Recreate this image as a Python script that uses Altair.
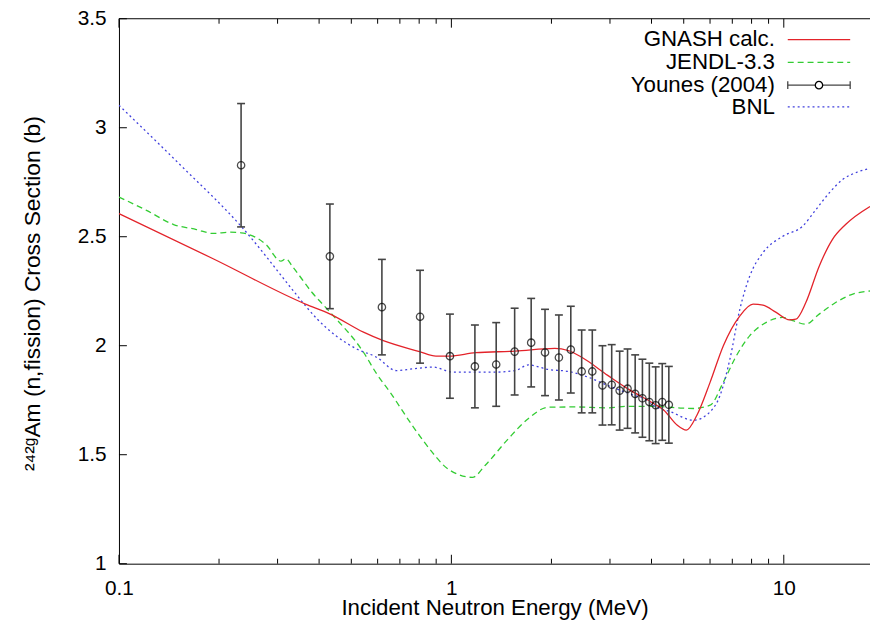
import altair as alt
import pandas as pd

# ---------------- data ----------------
younes_e = [0.233, 0.431, 0.618, 0.805, 0.990, 1.177, 1.364, 1.550, 1.738, 1.913, 2.106, 2.287,
            2.466, 2.654, 2.848, 3.036, 3.208, 3.388, 3.572, 3.756, 3.940, 4.117, 4.309, 4.510]
younes_xs = [2.828, 2.410, 2.177, 2.133, 1.952, 1.905, 1.914, 1.973, 2.014, 1.969, 1.946, 1.982,
             1.882, 1.882, 1.818, 1.821, 1.794, 1.803, 1.779, 1.759, 1.742, 1.727, 1.742, 1.729]
younes_err = [0.283, 0.240, 0.219, 0.213, 0.193, 0.190, 0.192, 0.199, 0.203, 0.198, 0.195, 0.199,
              0.190, 0.190, 0.182, 0.184, 0.181, 0.182, 0.179, 0.179, 0.178, 0.176, 0.176, 0.176]

gnash_e = [0.1, 0.192, 0.364, 0.432, 0.544, 0.624, 0.802, 0.899, 0.985, 1.183, 1.557, 2.048,
           2.244, 2.460, 2.953, 3.388, 4.069, 4.358, 4.775, 5.093, 5.478, 6.005, 6.580, 7.379,
           8.082, 8.660, 9.486, 10.40, 10.88, 11.65, 12.78, 14.00, 15.34, 18.17]
gnash_xs = [2.606, 2.399, 2.191, 2.145, 2.062, 2.023, 1.973, 1.952, 1.952, 1.968, 1.975, 1.988,
            1.978, 1.948, 1.864, 1.803, 1.734, 1.704, 1.636, 1.613, 1.681, 1.833, 2.000, 2.137,
            2.191, 2.186, 2.153, 2.119, 2.122, 2.198, 2.365, 2.487, 2.556, 2.639]

jendl_e = [0.1, 0.121, 0.146, 0.171, 0.192, 0.215, 0.233, 0.277, 0.307, 0.318, 0.332, 0.381,
           0.432, 0.544, 0.596, 0.653, 0.766, 0.899, 0.942, 1.055, 1.157, 1.267, 1.487, 1.706,
           1.956, 2.350, 2.953, 3.388, 4.069, 4.775, 5.356, 6.005, 6.580, 7.208, 7.902, 8.859,
           9.931, 10.64, 11.65, 12.78, 14.32, 16.06, 18.17]
jendl_xs = [2.682, 2.621, 2.556, 2.533, 2.515, 2.521, 2.518, 2.464, 2.388, 2.399, 2.365, 2.244,
            2.153, 1.970, 1.871, 1.788, 1.630, 1.490, 1.455, 1.408, 1.396, 1.453, 1.575, 1.666,
            1.718, 1.719, 1.715, 1.722, 1.722, 1.715, 1.712, 1.727, 1.833, 1.955, 2.046, 2.107,
            2.130, 2.115, 2.099, 2.145, 2.198, 2.236, 2.251]

bnl_e = [0.1, 0.153, 0.233, 0.344, 0.364, 0.395, 0.519, 0.596, 0.683, 0.766, 0.879, 1.008,
         1.357, 1.557, 1.706, 1.956, 2.244, 2.575, 2.953, 3.548, 3.799, 4.069, 4.563, 5.356,
         6.005, 6.431, 6.888, 7.379, 7.902, 8.660, 9.931, 11.39, 12.49, 13.68, 14.99, 16.81, 18.17]
bnl_xs = [3.103, 2.829, 2.548, 2.229, 2.183, 2.122, 1.985, 1.947, 1.886, 1.894, 1.902, 1.879,
          1.879, 1.886, 1.912, 1.891, 1.882, 1.856, 1.818, 1.772, 1.757, 1.724, 1.697, 1.658,
          1.697, 1.772, 1.940, 2.168, 2.320, 2.427, 2.502, 2.548, 2.624, 2.700, 2.761, 2.799, 2.814]

x_major = [0.1, 1, 10]
x_minor = [0.2, 0.3, 0.4, 0.5, 0.6, 0.7, 0.8, 0.9, 2, 3, 4, 5, 6, 7, 8, 9]
y_major = [1, 1.5, 2, 2.5, 3, 3.5]

legend_labels = ["GNASH calc.", "JENDL-3.3", "Younes (2004)", "BNL"]

# ---------------- styling ----------------
W, H = 758, 550
FONT = "Liberation Sans"
RED, GREEN, BLUE, BAR = "#e3232a", "#33cc33", "#4040dd", "#444444"

xscale = alt.Scale(type="log", domain=[0.1, 18.17], nice=False)
yscale = alt.Scale(domain=[1.0, 3.5], nice=False, zero=False)

xaxis = alt.Axis(values=x_major, format="~g", title="Incident Neutron Energy (MeV)",
                 grid=False, ticks=False, tickSize=0, domainColor="black", domainWidth=1,
                 labelFont=FONT, labelFontSize=21, labelColor="black", labelPadding=14,
                 labelFlush=False, titleFont=FONT, titleFontSize=22.5, titleFontWeight="normal",
                 titleColor="black", titleY=51, titleBaseline="alphabetic")
yaxis = alt.Axis(values=y_major, format="~g", title="²⁴²ᵍAm (n,fission) Cross Section (b)",
                 grid=False, ticks=False, tickSize=0, domainColor="black", domainWidth=1,
                 labelFont=FONT, labelFontSize=21, labelColor="black", labelPadding=13,
                 labelFlush=False, titleFont=FONT, titleFontSize=23, titleFontWeight="normal",
                 titleColor="black", titleX=-87, titleY=277, titleBaseline="middle")

X = lambda f: alt.X(f, scale=xscale, axis=xaxis)
Y = lambda f: alt.Y(f, scale=yscale, axis=yaxis)


def curve(e, xs, color, dash=None):
    df = pd.DataFrame({"E": e, "XS": xs})
    kw = dict(color=color, strokeWidth=1.3, interpolate="monotone", clip=True)
    if dash:
        kw["strokeDash"] = dash
    return alt.Chart(df).mark_line(**kw).encode(x=X("E:Q"), y=Y("XS:Q"))


gnash = curve(gnash_e, gnash_xs, RED)
jendl = curve(jendl_e, jendl_xs, GREEN, [6, 4])
bnl = curve(bnl_e, bnl_xs, BLUE, [2, 3])

ydf = pd.DataFrame({"E": younes_e, "XS": younes_xs, "err": younes_err})
ydf["lo"] = ydf["XS"] - ydf["err"]
ydf["hi"] = ydf["XS"] + ydf["err"]
ybase = alt.Chart(ydf)
bars = ybase.mark_rule(color=BAR, strokeWidth=1.6).encode(x=X("E:Q"), y=Y("lo:Q"), y2="hi:Q")
cap_lo = ybase.mark_rule(color=BAR, strokeWidth=1.6, xOffset=-4, x2Offset=4).encode(
    x=X("E:Q"), x2="E:Q", y=Y("lo:Q"))
cap_hi = ybase.mark_rule(color=BAR, strokeWidth=1.6, xOffset=-4, x2Offset=4).encode(
    x=X("E:Q"), x2="E:Q", y=Y("hi:Q"))
pts = ybase.mark_point(shape="circle", filled=False, size=55, color="black",
                       strokeWidth=1.3).encode(x=X("E:Q"), y=Y("XS:Q"))

# inward ticks
xmaj = pd.DataFrame({"E": x_major})
xmin = pd.DataFrame({"E": x_minor})
ymaj = pd.DataFrame({"V": y_major})
tick_layers = [
    alt.Chart(xmaj).mark_rule(color="black").encode(x=X("E:Q"), y=alt.value(H), y2=alt.value(H - 9)),
    alt.Chart(xmin).mark_rule(color="black").encode(x=X("E:Q"), y=alt.value(H), y2=alt.value(H - 5)),
    alt.Chart(xmaj).mark_rule(color="black").encode(x=X("E:Q"), y=alt.value(0), y2=alt.value(9)),
    alt.Chart(xmin).mark_rule(color="black").encode(x=X("E:Q"), y=alt.value(0), y2=alt.value(5)),
    alt.Chart(ymaj).mark_rule(color="black").encode(y=Y("V:Q"), x=alt.value(0), x2=alt.value(8)),
]
one = alt.Data(values=[{"k": 0}])
top_border = alt.Chart(one).mark_rule(color="black").encode(
    x=alt.value(0), x2=alt.value(W), y=alt.value(0))

# legend (top right, inside plot)
rows = [21, 44, 67, 89]
lx0, lx1, tx = 675, 738, 662
legend_layers = []
for lab, ry in zip(legend_labels, rows):
    legend_layers.append(
        alt.Chart(one).mark_text(align="right", baseline="middle", font=FONT, fontSize=22.5,
                                 color="black").encode(x=alt.value(tx), y=alt.value(ry),
                                                       text=alt.value(lab)))
legend_layers += [
    alt.Chart(one).mark_rule(color=RED, strokeWidth=1.3).encode(
        x=alt.value(lx0), x2=alt.value(lx1), y=alt.value(rows[0])),
    alt.Chart(one).mark_rule(color=GREEN, strokeWidth=1.3, strokeDash=[6, 4]).encode(
        x=alt.value(lx0), x2=alt.value(lx1), y=alt.value(rows[1])),
    alt.Chart(one).mark_rule(color=BAR, strokeWidth=1.3).encode(
        x=alt.value(lx0), x2=alt.value(lx1), y=alt.value(rows[2])),
    alt.Chart(one).mark_rule(color=BAR, strokeWidth=1.3).encode(
        x=alt.value(lx0), y=alt.value(rows[2] - 4), y2=alt.value(rows[2] + 4)),
    alt.Chart(one).mark_rule(color=BAR, strokeWidth=1.3).encode(
        x=alt.value(lx1), y=alt.value(rows[2] - 4), y2=alt.value(rows[2] + 4)),
    alt.Chart(one).mark_point(shape="circle", filled=False, size=55, color="black",
                              strokeWidth=1.3, fill="white", fillOpacity=1).encode(
        x=alt.value((lx0 + lx1) / 2), y=alt.value(rows[2])),
    alt.Chart(one).mark_rule(color=BLUE, strokeWidth=1.3, strokeDash=[2, 3]).encode(
        x=alt.value(lx0), x2=alt.value(lx1), y=alt.value(rows[3])),
]

chart = alt.layer(
    jendl, bnl, gnash, bars, cap_lo, cap_hi, pts, *tick_layers, top_border, *legend_layers
).properties(
    width=W, height=H,
    padding={"left": 112, "top": 8, "right": 0, "bottom": 56},
    autosize=alt.AutoSizeParams(type="none"),
    background="white",
).configure_view(stroke="transparent")

chart.save("out.html", embed_options={"renderer": "svg", "actions": False})
